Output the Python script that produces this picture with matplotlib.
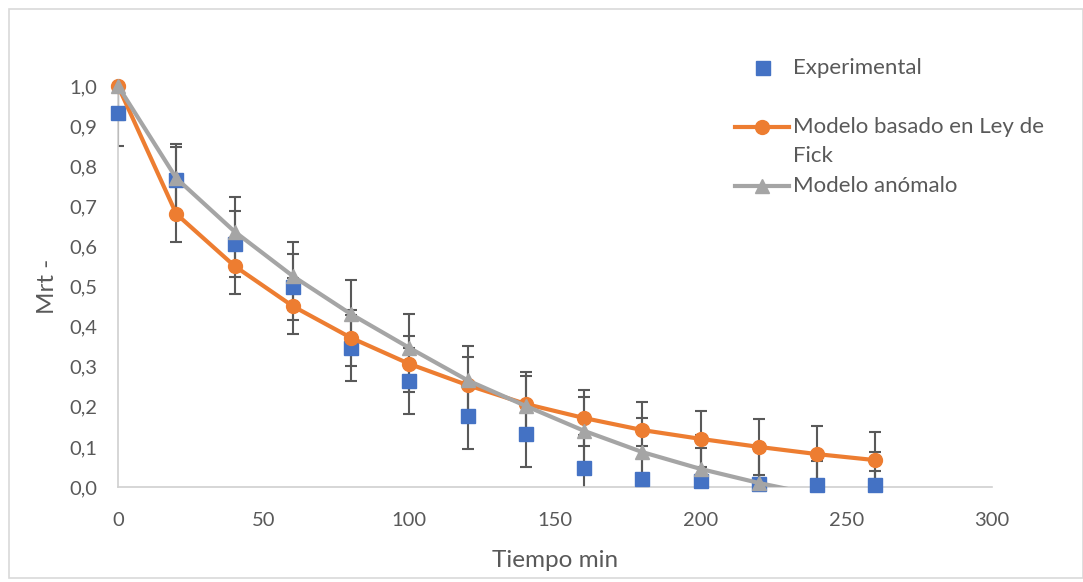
import matplotlib
matplotlib.use("Agg")
from matplotlib import pyplot as plt
from matplotlib.lines import Line2D
from matplotlib.patches import Rectangle
from matplotlib.ticker import FuncFormatter
import numpy as np

# tiempo (min)
t = [0, 20, 40, 60, 80, 100, 120, 140, 160, 180, 200, 220, 240, 260]

exp_mrt = [0.933, 0.766, 0.606, 0.499, 0.347, 0.264, 0.177, 0.132, 0.047, 0.020, 0.015, 0.007, 0.005, 0.005]
fick_mrt = [1.0, 0.681, 0.551, 0.451, 0.372, 0.307, 0.254, 0.207, 0.172, 0.142, 0.120, 0.100, 0.082, 0.067]
anom_mrt = [1.0, 0.770, 0.637, 0.526, 0.431, 0.347, 0.266, 0.202, 0.140, 0.087, 0.045, 0.010, -0.020, -0.044]

exp_err = 0.083
fick_err = 0.07
anom_err = 0.085

c_exp = '#4472C4'
c_fick = '#ED7D31'
c_anom = '#A5A5A5'
c_txt = '#595959'
c_err = '#595959'

plt.rcParams['font.family'] = ['Lato', 'DejaVu Sans']

fig = plt.figure(figsize=(10.83, 5.82), dpi=100)
# eje: y=0 en 487 px, y=1 en 86 px
ax = fig.add_axes([0.109, 0.1632, 0.807, 0.689])

ebk = dict(fmt='none', ecolor=c_err, elinewidth=1.5, capsize=4.5, capthick=1.5, zorder=2)
ax.errorbar(t, exp_mrt, yerr=exp_err, **ebk)
ax.errorbar(t, fick_mrt, yerr=fick_err, **ebk)
ax.errorbar(t, anom_mrt, yerr=anom_err, **ebk)

ax.plot(t, exp_mrt, ls='none', marker='s', ms=10, color=c_exp, zorder=3, clip_on=False)
ax.plot(t, fick_mrt, '-', color=c_fick, lw=3, marker='o', ms=10, zorder=4, clip_on=False)
ax.plot(t, anom_mrt, '-', color=c_anom, lw=3, zorder=5)
anom_vis = np.where(np.array(anom_mrt) >= 0, anom_mrt, np.nan)
ax.plot(t, anom_vis, ls='none', color=c_anom, marker='^', ms=10, zorder=5, clip_on=False)

ax.set_xlim(0, 300)
ax.set_ylim(0, 1.0)
ax.set_xticks(np.arange(0, 301, 50))
ax.set_yticks(np.arange(0, 1.01, 0.1))
ax.yaxis.set_major_formatter(FuncFormatter(lambda v, p: ('%.1f' % v).replace('.', ',')))
ax.tick_params(length=0, labelsize=14.5, labelcolor=c_txt)
ax.tick_params(axis='x', pad=18)
ax.tick_params(axis='y', pad=15)

for s in ['top', 'right']:
    ax.spines[s].set_visible(False)
ax.spines['left'].set_color('#D0D0D0')
ax.spines['bottom'].set_color('#D0D0D0')
ax.spines['left'].set_linewidth(1.2)
ax.spines['bottom'].set_linewidth(1.2)

ax.set_xlabel('Tiempo min', fontsize=17.5, color=c_txt, labelpad=15)
ax.set_ylabel('Mrt -', fontsize=17.5, color=c_txt, labelpad=8)

# leyenda
def fx(px):
    return px / 1083.0

def fy(py):
    return 1 - py / 582.0

fig.add_artist(Line2D([fx(763)], [fy(68)], marker='s', ms=10, color=c_exp, ls='none'))
fig.add_artist(Line2D([fx(735), fx(789)], [fy(127), fy(127)], color=c_fick, lw=3))
fig.add_artist(Line2D([fx(762)], [fy(127)], marker='o', ms=10, color=c_fick))
fig.add_artist(Line2D([fx(735), fx(789)], [fy(186), fy(186)], color=c_anom, lw=3))
fig.add_artist(Line2D([fx(762)], [fy(186)], marker='^', ms=10, color=c_anom))
lk = dict(fontsize=16, color=c_txt, va='center', ha='left')
fig.text(fx(793), fy(68), 'Experimental', **lk)
fig.text(fx(793), fy(127), 'Modelo basado en Ley de', **lk)
fig.text(fx(793), fy(156), 'Fick', **lk)
fig.text(fx(793), fy(186), 'Modelo anómalo', **lk)

fig.add_artist(Rectangle((fx(9), fy(578)), fx(1083 - 9), fy(9) - fy(578),
                         fill=False, edgecolor='#D9D9D9', lw=1.2))

fig.savefig('out.png', dpi=100)
